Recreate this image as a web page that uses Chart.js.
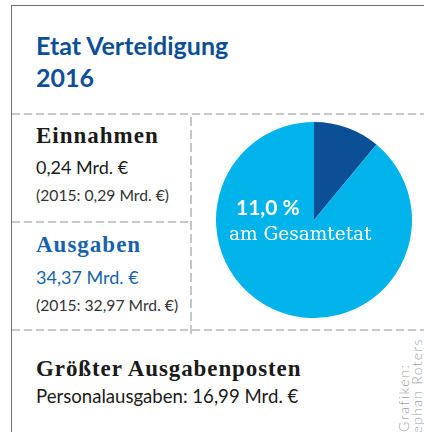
<!DOCTYPE html>
<html>
<head>
<meta charset="utf-8">
<script src="https://cdn.jsdelivr.net/npm/chart.js@4"></script>
<style>
    html, body { margin: 0; padding: 0; background: #fff; }
    #box { position: relative; width: 424px; height: 432px; overflow: hidden; }
    .txt { position: absolute; white-space: nowrap; line-height: 1; }
    .sans { font-family: "Lato", "Open Sans", sans-serif; }
    .serif { font-family: "Liberation Serif", serif; font-weight: bold; letter-spacing: 1px; }
    .blue { color: #0d4f97; }
    .rot { transform-origin: 0 0; transform: rotate(-90deg); font-size: 14px; font-weight: 300; color: #9c9c9c; }
    .hline { position: absolute; height: 1.5px;
        background: repeating-linear-gradient(to right, #c6c6c6 0, #c6c6c6 8px, transparent 8px, transparent 12px); }
    .vline { position: absolute; width: 1.5px;
        background: repeating-linear-gradient(to bottom, #c6c6c6 0, #c6c6c6 9px, transparent 9px, transparent 13px); }
</style>
</head>
<body>
<div id="box">
    <div style="position:absolute; left:11px; top:5px; width:440px; height:440px; border-left:1.5px solid #6e6e6e; border-top:1.5px solid #6e6e6e;"></div>

    <div class="txt sans blue" id="title" style="left:36px; top:29px; font-size:25px; font-weight:bold; line-height:32px;"></div>

    <div class="hline" style="left:12px; top:113px; width:412px;"></div>
    <div class="hline" style="left:12px; top:221px; width:178px;"></div>
    <div class="hline" style="left:12px; top:329px; width:412px;"></div>
    <div class="vline" style="left:190px; top:117px; height:217px;"></div>

    <div class="txt serif" id="inHead" style="left:36px; top:124px; font-size:23px; color:#1a1a1a;"></div>
    <div class="txt sans" id="inVal" style="left:36px; top:158px; font-size:18px; color:#1a1a1a;"></div>
    <div class="txt sans" id="inPrev" style="left:36px; top:188px; font-size:15.7px; color:#333;"></div>

    <div class="txt serif" id="outHead" style="left:36px; top:233px; font-size:23px; color:#1763aa;"></div>
    <div class="txt sans" id="outVal" style="left:36px; top:268px; font-size:18px; color:#1763aa;"></div>
    <div class="txt sans" id="outPrev" style="left:36px; top:298px; font-size:15.7px; color:#333;"></div>

    <div class="txt serif" id="bigHead" style="left:36px; top:357px; font-size:23px; color:#1a1a1a; letter-spacing:0.9px;"></div>
    <div class="txt sans" id="bigVal" style="left:36px; top:387px; font-size:18.6px; color:#1a1a1a;"></div>

    <div class="txt sans rot" id="credit1" style="left:397px; top:432px; letter-spacing:1.6px;"></div>
    <div class="txt sans rot" id="credit2" style="left:410px; top:448px; letter-spacing:1.3px;"></div>

    <div style="position:absolute; left:216px; top:122px; width:196px; height:196px;">
        <canvas id="pieChart" width="196" height="196"></canvas>
    </div>
    <div class="txt sans" id="pieShare" style="left:236px; top:196px; font-size:21px; font-weight:bold; color:#fff;"></div>
    <div class="txt" id="pieNote" style="left:229px; top:225px; font-size:18.5px; color:#fff; font-family:'DejaVu Serif', serif;"></div>
</div>

<script>
// chart data
var shareLabels = ['Verteidigung', 'Übrige Ressorts'];
var shareValues = [11.0, 89.0];
var shareColors = ['#0b4f96', '#00b3ea'];

var titleLines = ['Etat Verteidigung', '2016'];
var incomeLines = ['Einnahmen', '0,24 Mrd. €', '(2015: 0,29 Mrd. €)'];
var spendLines = ['Ausgaben', '34,37 Mrd. €', '(2015: 32,97 Mrd. €)'];
var biggestLines = ['Größter Ausgabenposten', 'Personalausgaben: 16,99 Mrd. €'];
var creditLines = ['Grafiken:', 'Stephan Roters'];

document.getElementById('title').innerHTML = titleLines.join('<br>');
document.getElementById('inHead').innerHTML = incomeLines[0];
document.getElementById('inVal').innerHTML = incomeLines[1];
document.getElementById('inPrev').innerHTML = incomeLines[2];
document.getElementById('outHead').innerHTML = spendLines[0];
document.getElementById('outVal').innerHTML = spendLines[1];
document.getElementById('outPrev').innerHTML = spendLines[2];
document.getElementById('bigHead').innerHTML = biggestLines[0];
document.getElementById('bigVal').innerHTML = biggestLines[1];
document.getElementById('credit1').innerHTML = creditLines[0];
document.getElementById('credit2').innerHTML = creditLines[1];

document.getElementById('pieShare').innerHTML = shareValues[0].toFixed(1).replace('.', ',') + ' %';
document.getElementById('pieNote').innerHTML = 'am Gesamtetat';

var ctx = document.getElementById('pieChart').getContext('2d');
var myChart = new Chart(ctx, {
    type: 'pie',
    data: {
        labels: shareLabels,
        datasets: [{
            data: shareValues,
            backgroundColor: shareColors,
            borderWidth: 0
        }]
    },
    options: {
        responsive: false,
        animation: false,
        layout: { padding: 0 },
        plugins: {
            legend: { display: false },
            tooltip: { enabled: false }
        }
    }
});
</script>
</body>
</html>
